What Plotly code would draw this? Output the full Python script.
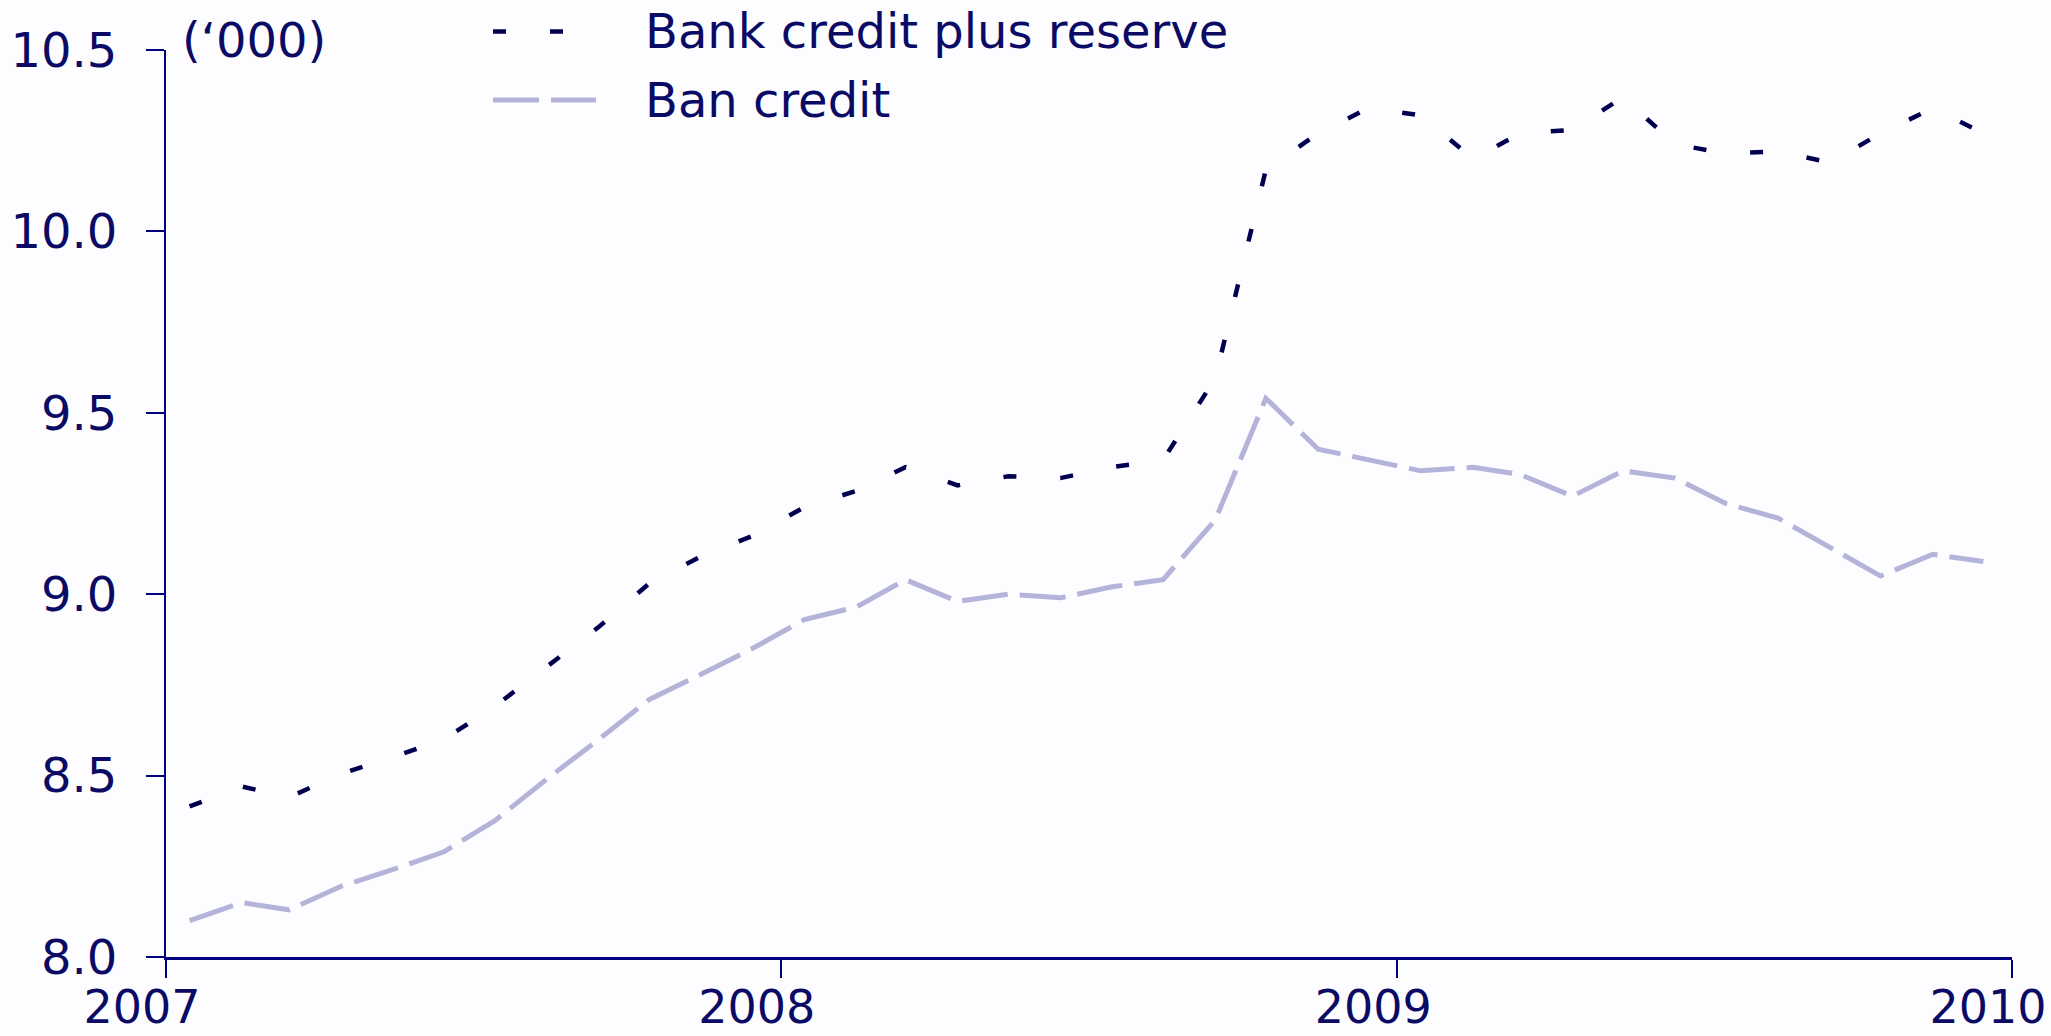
import plotly.graph_objects as go

# ---- data (monthly, Jan 2007 - Dec 2009), thousands ----
months = [f"{y}-{m:02d}-15" for y in (2007, 2008, 2009) for m in range(1, 13)]

bank_credit_plus_reserve = [
    8.415, 8.47, 8.44, 8.505, 8.55, 8.60, 8.69, 8.80, 8.91, 9.03, 9.105, 9.16,
    9.24, 9.285, 9.35, 9.30, 9.325, 9.32, 9.35, 9.37, 9.595, 10.17, 10.27, 10.34,
    10.32, 10.20, 10.27, 10.28, 10.37, 10.24, 10.215, 10.22, 10.19, 10.27, 10.34, 10.27,
]

ban_credit = [
    8.10, 8.15, 8.13, 8.195, 8.24, 8.29, 8.375, 8.49, 8.60, 8.71, 8.78, 8.85,
    8.93, 8.965, 9.04, 8.98, 9.00, 8.99, 9.02, 9.04, 9.205, 9.54, 9.40, 9.37,
    9.34, 9.35, 9.33, 9.27, 9.34, 9.32, 9.25, 9.21, 9.13, 9.05, 9.11, 9.09,
]

series_names = ["Bank credit plus reserve", "Ban credit"]
x_tick_vals = ["2007-01-01", "2008-01-01", "2009-01-01", "2010-01-01"]
x_tick_text = ["2007", "2008", "2009", "2010"]
y_tick_vals = [8.0, 8.5, 9.0, 9.5, 10.0, 10.5]

# ---- style ----
NAVY = "#000080"
TEXT = "#0b0b66"
DARK = "#00004f"
LIGHT = "#b4b4da"
BG = "#fdfdff"
FONT = "DejaVu Sans"
FS = 48

W, H = 2051, 1036
L, R, T, B = 166, 39, 50, 79
pw, ph = W - L - R, H - T - B


def px_x(p):
    return (p - L) / pw


def px_y(p):
    return (H - B - p) / ph


fig = go.Figure()
fig.add_trace(go.Scatter(
    x=months, y=ban_credit, mode="lines", name=series_names[1],
    line=dict(color=LIGHT, width=5, dash="46px,12px"), showlegend=False,
))
fig.add_trace(go.Scatter(
    x=months, y=bank_credit_plus_reserve, mode="lines", name=series_names[0],
    line=dict(color=DARK, width=4.5, dash="13px,44px"), showlegend=False,
))

# manual legend
legend_rows = [(31.5, DARK, 4.5, "13px,44px"), (100, LIGHT, 5, "46px,12px")]
for (py, col, wd, dash), name in zip(legend_rows, series_names):
    fig.add_shape(type="line", xref="paper", yref="paper",
                  x0=px_x(493), x1=px_x(596), y0=px_y(py), y1=px_y(py),
                  line=dict(color=col, width=wd, dash=dash))
    fig.add_annotation(xref="paper", yref="paper", x=px_x(643), y=px_y(py),
                       text=name, showarrow=False, xanchor="left", yanchor="middle",
                       font=dict(family=FONT, size=FS, color=TEXT))

fig.add_annotation(xref="paper", yref="paper", x=px_x(180), y=px_y(40),
                   text="(‘000)", showarrow=False, xanchor="left", yanchor="middle",
                   font=dict(family=FONT, size=FS, color=TEXT))

fig.update_layout(
    width=W, height=H,
    margin=dict(l=L, r=R, t=T, b=B, pad=0, autoexpand=False),
    paper_bgcolor=BG, plot_bgcolor=BG,
    font=dict(family=FONT, size=FS, color=TEXT),
    showlegend=False,
)
fig.update_xaxes(
    type="date", range=["2007-01-01", "2010-01-01"],
    tickvals=x_tick_vals, ticktext=x_tick_text,
    showgrid=False, zeroline=False, automargin=False,
    showline=True, linecolor=NAVY, linewidth=3,
    ticks="outside", ticklen=18, tickwidth=2, tickcolor=NAVY,
    ticklabelshift=-24, ticklabelstandoff=-10,
    tickfont=dict(family=FONT, size=46, color=TEXT),
)
fig.update_yaxes(
    range=[8.0, 10.5], tickvals=y_tick_vals, tickformat=".1f",
    showgrid=False, zeroline=False, automargin=False,
    showline=True, linecolor=NAVY, linewidth=2,
    ticks="outside", ticklen=18, tickwidth=2, tickcolor=NAVY,
    ticklabelstandoff=19,
    tickfont=dict(family=FONT, size=FS, color=TEXT),
)

fig.write_html(
    "out.html",
    config={"displayModeBar": False},
    post_script="document.body.style.margin='0';document.body.style.overflow='hidden';",
)
